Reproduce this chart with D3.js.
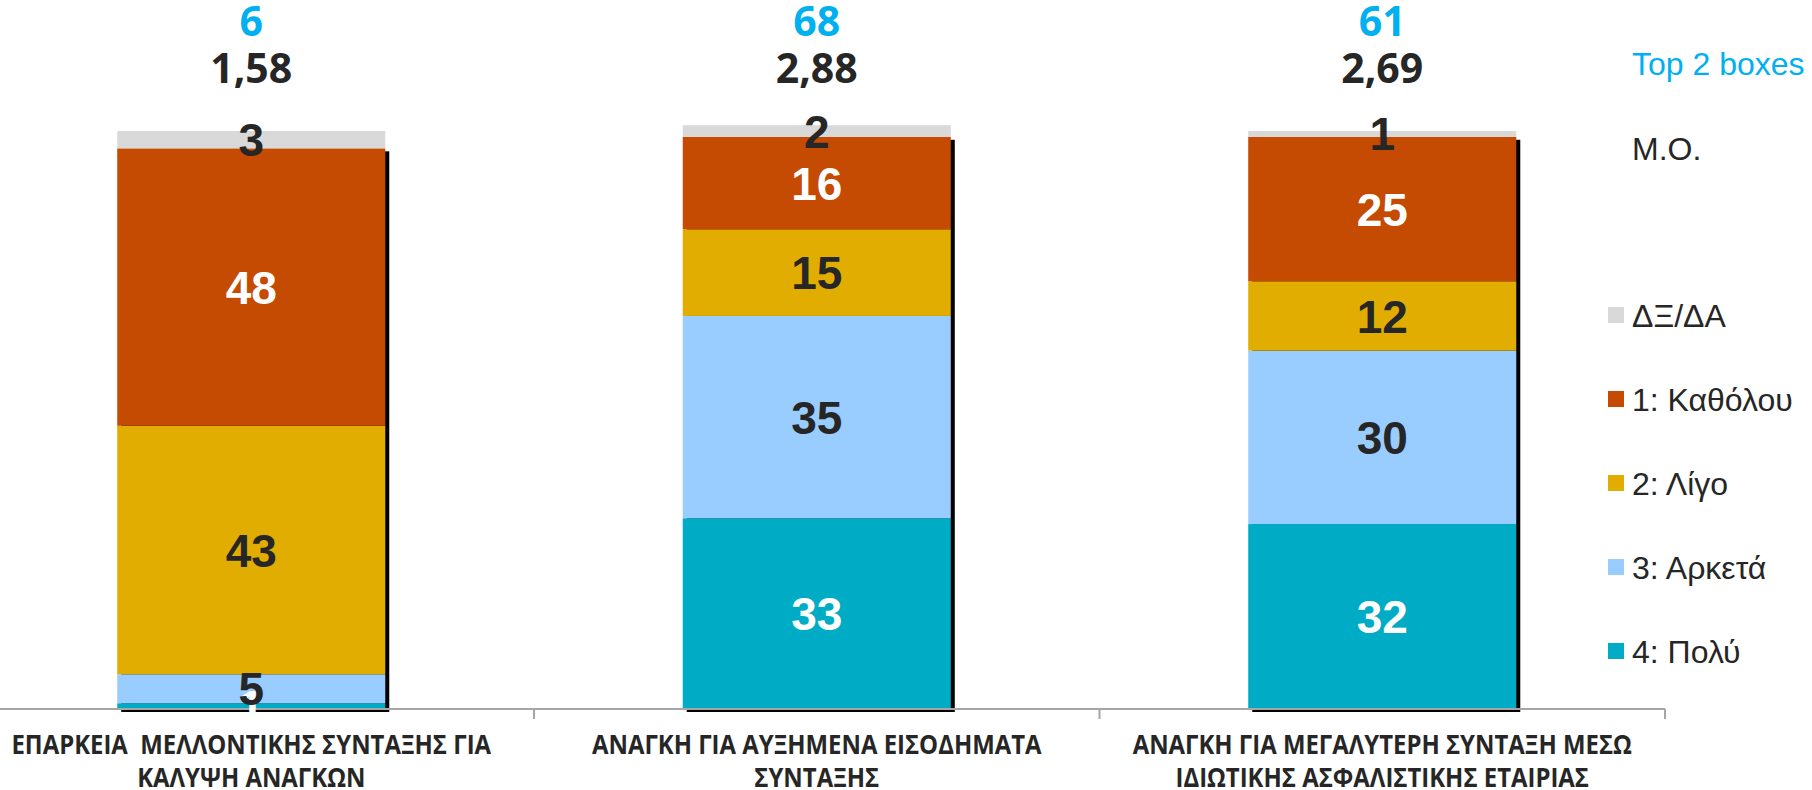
<!DOCTYPE html>
<html>
<head>
<meta charset="utf-8">
<script src="https://cdn.jsdelivr.net/npm/d3@7"></script>
<style>
	html, body { margin: 0; padding: 0; background: #ffffff; }
	#chart { width: 1812px; height: 790px; }
	text { white-space: pre; }
</style>
</head>
<body>
<div id="chart"></div>
<script>
// categories, two lines each
var categories = ["c1", "c2", "c3"];
var categoryLines = [
	["ΕΠΑΡΚΕΙΑ  ΜΕΛΛΟΝΤΙΚΗΣ ΣΥΝΤΑΞΗΣ ΓΙΑ", "ΚΑΛΥΨΗ ΑΝΑΓΚΩΝ"],
	["ΑΝΑΓΚΗ ΓΙΑ ΑΥΞΗΜΕΝΑ ΕΙΣΟΔΗΜΑΤΑ", "ΣΥΝΤΑΞΗΣ"],
	["ΑΝΑΓΚΗ ΓΙΑ ΜΕΓΑΛΥΤΕΡΗ ΣΥΝΤΑΞΗ ΜΕΣΩ", "ΙΔΙΩΤΙΚΗΣ ΑΣΦΑΛΙΣΤΙΚΗΣ ΕΤΑΙΡΙΑΣ"]
];
// series, bottom to top
var polu = [1, 33, 32];
var arketa = [5, 35, 30];
var ligo = [43, 15, 12];
var katholou = [48, 16, 25];
var dxda = [3, 2, 1];
// summary rows above the bars
var top2 = [6, 68, 61];
var meanScore = [1.58, 2.88, 2.69];
//
var seriesNames = ["4: Πολύ", "3: Αρκετά", "2: Λίγο", "1: Καθόλου", "ΔΞ/ΔΑ"];
var seriesValues = [polu, arketa, ligo, katholou, dxda];
var seriesFill = ["#00ACC5", "#99CCFF", "#E1AD01", "#C54A02", "#D9D9D9"];
var seriesLabelFill = ["#ffffff", "#262626", "#262626", "#ffffff", "#262626"];

var width = 1812, height = 790;
var svg = d3.select("#chart").append("svg")
	.attr("width", width).attr("height", height)
	.style("font-family", "'Liberation Sans', Arial, sans-serif");

var x = d3.scaleBand().domain(categories).range([-31.5, 1665]).padding(0);
var barW = x.bandwidth() * 0.474;
var y = d3.scaleLinear().domain([0, 100]).range([709, 131]);

// build stacked rows
var rows = categories.map(function(c, i){
	var r = {cat: c};
	seriesNames.forEach(function(s, j){ r[s] = seriesValues[j][i]; });
	return r;
});
var stacked = d3.stack().keys(seriesNames)(rows);

function barX(d){ return x(d.data.cat) + (x.bandwidth() - barW) / 2; }
function midX(c){ return x(c) + x.bandwidth() / 2; }

// shadow behind answered part of each bar
var shadowTop = stacked[3];
svg.append("g").selectAll("rect")
	.data(shadowTop)
	.enter()
	.append("rect")
	.attr("x", function(d){ return barX(d) + 4; })
	.attr("y", function(d){ return y(d[1]) + 3; })
	.attr("width", barW)
	.attr("height", function(d){ return y(0) - y(d[1]); })
	.attr("fill", "#000000");

// segments
var layer = svg.append("g").selectAll("g")
	.data(stacked)
	.enter()
	.append("g")
	.attr("fill", function(d, i){ return seriesFill[i]; });
layer.selectAll("rect")
	.data(function(d){ return d; })
	.enter()
	.append("rect")
	.attr("x", barX)
	.attr("y", function(d){ return y(d[1]); })
	.attr("width", barW)
	.attr("height", function(d){ return y(d[0]) - y(d[1]); });

// axis line with ticks at band edges
var axis = svg.append("g").attr("stroke", "#A6A6A6").attr("stroke-width", 2);
axis.append("line")
	.attr("x1", 0).attr("x2", x.range()[1])
	.attr("y1", y(0)).attr("y2", y(0));
axis.selectAll("line.tick")
	.data(categories)
	.enter()
	.append("line")
	.attr("class", "tick")
	.attr("x1", function(d){ return x(d) + x.bandwidth(); })
	.attr("x2", function(d){ return x(d) + x.bandwidth(); })
	.attr("y1", y(0)).attr("y2", y(0) + 10);

// segment labels
stacked.forEach(function(s, i){
	svg.append("g").selectAll("text")
		.data(s)
		.enter()
		.append("text")
		.attr("x", function(d){ return midX(d.data.cat); })
		.attr("y", function(d){ return y((d[0] + d[1]) / 2); })
		.attr("dy", "0.36em")
		.attr("text-anchor", "middle")
		.attr("font-size", 46)
		.attr("font-weight", "bold")
		.attr("fill", seriesLabelFill[i])
		.text(function(d){ return d[1] - d[0]; });
});

// top 2 boxes and mean rows
var summary = svg.append("g")
	.style("font-family", "'Open Sans', sans-serif")
	.attr("font-weight", "bold")
	.attr("font-size", 41)
	.attr("text-anchor", "middle");
summary.selectAll("text.top2")
	.data(top2)
	.enter()
	.append("text")
	.attr("class", "top2")
	.attr("x", function(d, i){ return midX(categories[i]); })
	.attr("y", 21)
	.attr("dy", "0.36em")
	.attr("fill", "#00B0F0")
	.text(function(d){ return d; });
summary.selectAll("text.mo")
	.data(meanScore)
	.enter()
	.append("text")
	.attr("class", "mo")
	.attr("x", function(d, i){ return midX(categories[i]); })
	.attr("y", 68)
	.attr("dy", "0.36em")
	.attr("fill", "#262626")
	.text(function(d){ return d.toFixed(2).replace(".", ","); });

// category labels
var cats = svg.append("g")
	.style("font-family", "'Open Sans', sans-serif")
	.attr("font-weight", "bold")
	.attr("font-size", 26)
	.attr("fill", "#262626")
	.attr("text-anchor", "middle");
categories.forEach(function(c, i){
	var g = cats.append("g").attr("transform", "translate(" + midX(c) + ",0) scale(0.92,1)");
	g.selectAll("text")
		.data(categoryLines[i])
		.enter()
		.append("text")
		.attr("x", 0)
		.attr("y", function(d, j){ return 745 + j * 33; })
		.attr("dy", "0.36em")
		.text(function(d){ return d; });
});

// legend on the right, top item first
var legendItems = seriesNames.slice().reverse();
var legendFill = seriesFill.slice().reverse();
var legend = svg.append("g").attr("font-size", 32).attr("fill", "#262626");
legend.selectAll("rect")
	.data(legendItems)
	.enter()
	.append("rect")
	.attr("x", 1608)
	.attr("y", function(d, i){ return 307 + i * 84; })
	.attr("width", 16).attr("height", 16)
	.attr("fill", function(d, i){ return legendFill[i]; });
legend.selectAll("text")
	.data(legendItems)
	.enter()
	.append("text")
	.attr("x", 1632)
	.attr("y", function(d, i){ return 315 + i * 84; })
	.attr("dy", "0.36em")
	.text(function(d){ return d; });
// side captions for the summary rows
legend.append("text")
	.attr("x", 1632).attr("y", 63).attr("dy", "0.36em")
	.attr("fill", "#00B0F0")
	.text("Top 2 boxes");
legend.append("text")
	.attr("x", 1632).attr("y", 148).attr("dy", "0.36em")
	.text("M.O.");
</script>
</body>
</html>
